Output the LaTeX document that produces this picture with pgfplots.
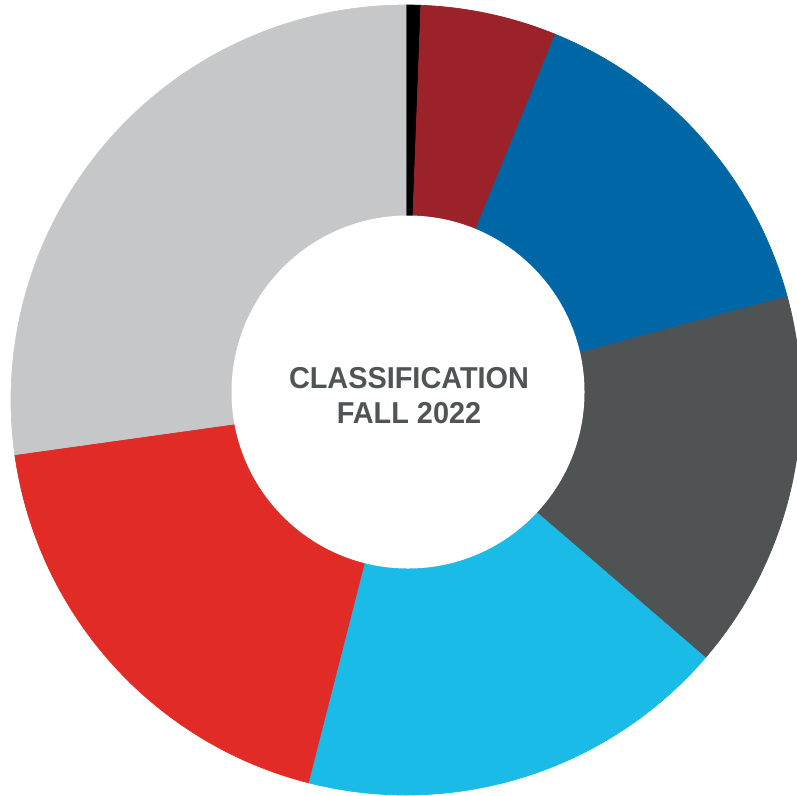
\documentclass[border=0pt]{standalone}
\usepackage{pgfplots}
\usepackage{pgfplotstable}
\pgfplotsset{compat=1.18}
\usepackage{fontspec}
\newfontfamily\labelfont[FakeStretch=0.955]{Liberation Sans}

\definecolor{slice0}{HTML}{000000}
\definecolor{slice1}{HTML}{9B2229}
\definecolor{slice2}{HTML}{0067A6}
\definecolor{slice3}{HTML}{4F5354}
\definecolor{slice4}{HTML}{1ABBE6}
\definecolor{slice5}{HTML}{E02B27}
\definecolor{slice6}{HTML}{C6C7C9}
\definecolor{centertext}{HTML}{4F5455}

% share of each slice, clockwise from 12 o'clock (percent)
\pgfplotstableread{
part value
a 0.60
b 5.57
c 14.61
d 15.53
e 17.67
f 18.81
g 27.21
}\slices

\begin{document}
\begin{tikzpicture}
\begin{axis}[
  hide axis, x=1cm, y=1cm,
  xmin=-4.06, xmax=3.91, ymin=-3.95, ymax=4.00,
  clip=true]
\pgfplotstablegetrowsof{\slices}
\pgfmathtruncatemacro\N{\pgfplotsretval-1}
\def\cum{0}
\pgfplotsforeachungrouped \i in {0,...,\N}{
  \pgfplotstablegetelem{\i}{value}\of\slices
  \pgfmathsetmacro\a{90-3.6*\cum}
  \pgfmathsetmacro\b{90-3.6*(\cum+\pgfplotsretval)}
  \pgfmathsetmacro\cum{\cum+\pgfplotsretval}
  \pgfmathsetmacro\ax{3.95*cos(\a)}
  \pgfmathsetmacro\ay{3.95*sin(\a)}
  \edef\temp{\noexpand\fill[slice\i, draw=slice\i, line width=0.2pt]
    (axis cs:0,0) -- (axis cs:\ax,\ay) arc[start angle=\a, end angle=\b, radius=3.95] -- cycle;}
  \temp
}
\fill[white] (axis cs:0.02,0.08) circle[radius=1.765];
\node[align=center, text=centertext, font=\labelfont\bfseries\fontsize{8.6}{9.96}\selectfont]
  at (axis cs:0.03,0.04) {CLASSIFICATION\\FALL 2022};
\end{axis}
\pgfresetboundingbox
\path[use as bounding box] (current axis.south west) rectangle (current axis.north east);
\end{tikzpicture}
\end{document}
